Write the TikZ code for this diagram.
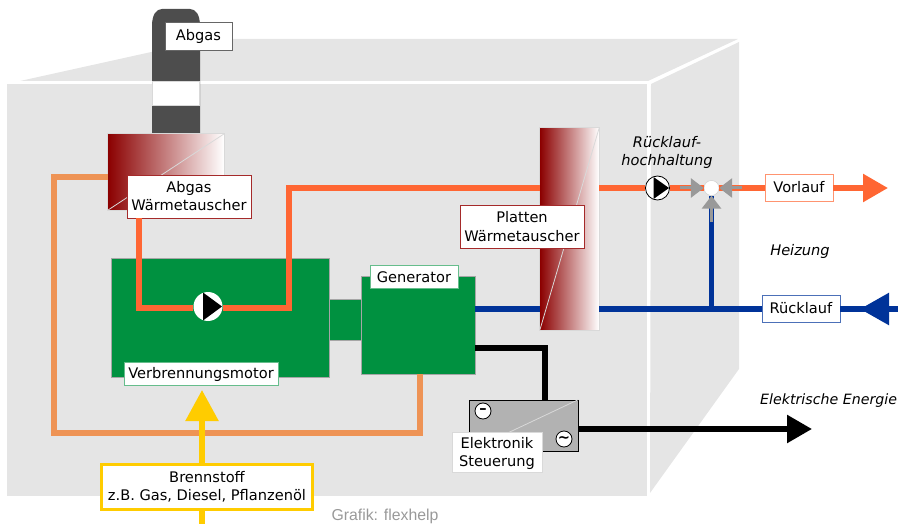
\documentclass[tikz,border=0pt]{standalone}
\usepackage{fontspec}
\setmainfont{DejaVu Sans}
\usetikzlibrary{arrows.meta}
\definecolor{wand}{HTML}{E5E5E5}
\definecolor{kamin}{HTML}{4D4D4D}
\definecolor{dunkelrot}{HTML}{8B0000}
\definecolor{labelrot}{HTML}{A52A2A}
\definecolor{gruen}{HTML}{009140}
\definecolor{vorlauffarbe}{HTML}{FF6633}
\definecolor{kuehlfarbe}{HTML}{EE9355}
\definecolor{ruecklauffarbe}{HTML}{003399}
\definecolor{gelb}{HTML}{FFCC00}
\definecolor{ventilgrau}{HTML}{999999}

\begin{document}
\begin{tikzpicture}[x=1pt,y=-1pt]
			\tikzstyle{every node}=[inner sep=0pt,font=\fontsize{14.6}{18}\selectfont,align=center,text height=9pt,text depth=0pt]
			\tikzstyle{block}=[rectangle,fill=gruen,draw=black!35,line width=0.8pt]
			\tikzstyle{hx}=[rectangle,left color=dunkelrot,right color=white]
			\tikzstyle{rand}=[black!15,line width=1.2pt]
			\tikzstyle{diag}=[white!85!black,line width=0.8pt]
			\tikzstyle{schild}=[rectangle,fill=white,line width=0.8pt]
			\tikzstyle{zweizeilig}=[text height=29pt]
			\tikzstyle{kursiv}=[font=\fontsize{14.6}{18}\selectfont\itshape]
			\tikzstyle{pipe}=[line width=5.6pt]
			\tikzstyle{pumpe}=[circle,fill=white,minimum size=24pt]
			\tikzstyle{gleich}=[circle,fill=white,draw=black,line width=0.8pt,minimum size=16pt,text height=,text depth=]
			\tikzstyle{ventilpfeil}=[draw=ventilgrau,line width=3pt,-{Triangle[length=13pt,width=19pt,fill=ventilgrau]}]
			
			\useasboundingbox (0,0) rectangle (898,524);
			
			% gehaeuse
			\fill[wand] (20,81) -- (210,39) -- (738,39) -- (648,81) -- cycle;
			\fill[wand] (651,84) -- (739,42) -- (739,369) -- (650,493) -- cycle;
			\fill[wand] (7,84) rectangle (647,496);
			
			% kamin
			\fill[kamin] (152,135) -- (152,26) .. controls (152,15) and (156,9) .. (162,9) -- (190,9) .. controls (196,9) and (200,15) .. (200,26) -- (200,135) -- cycle;
			\node[rectangle,fill=white,draw=black!15,minimum width=47pt,minimum height=24pt] (band) at (176,93) {};
			\node[schild,draw=black!60,minimum width=67pt,minimum height=28pt] (abgas) at (198.5,36) {Abgas};
			
			% bloecke
			\node[hx,minimum width=116pt,minimum height=76pt] (abgashx) at (166,172) {};
			\draw[rand] (abgashx.south west) rectangle (abgashx.north east);
			\draw[diag] (abgashx.south west) -- (abgashx.north east);
			\node[hx,minimum width=59pt,minimum height=202pt] (plattenhx) at (569.5,229) {};
			\draw[rand] (plattenhx.south west) rectangle (plattenhx.north east);
			\draw[diag] (plattenhx.south west) -- (plattenhx.north east);
			\node[block,minimum width=218pt,minimum height=119pt] (motor) at (220,317.5) {};
			\node[block,minimum width=32pt,minimum height=41pt] (welle) at (345,320) {};
			\node[block,minimum width=114pt,minimum height=98pt] (generator) at (418,325) {};
			\node[rectangle,fill=black!30,draw=black,line width=0.8pt,minimum width=109pt,minimum height=51pt] (elektronik) at (523.5,425.5) {};
			\draw[diag] (elektronik.south west) -- (elektronik.north east);
			\node[gleich] (minus) at (483,411) {\textbf{–}};
			\node[gleich] (wechsel) at (564,439) {\textbf{\char"223C}};
			
			% beschriftung
			\node[schild,zweizeilig,draw=labelrot,minimum width=124pt,minimum height=43pt] (abgaslabel) at (189,196.5) {Abgas\\Wärmetauscher};
			\node[schild,zweizeilig,draw=labelrot,minimum width=124pt,minimum height=43pt] (plattenlabel) at (522,226.5) {Platten\\Wärmetauscher};
			\node[schild,draw=gruen!60,minimum width=88pt,minimum height=23pt,text height=13pt] (generatorlabel) at (414,276.5) {Generator};
			\node[schild,draw=gruen!60,minimum width=154pt,minimum height=23pt] (motorlabel) at (201,373.5) {Verbrennungsmotor};
			\node[schild,draw=gelb,line width=2.5pt,minimum width=211pt,minimum height=45pt,text height=27pt] (brennstoff) at (207,487) {Brennstoff\\z.B. Gas, Diesel, Pflanzenöl};
			\node[schild,draw=vorlauffarbe!70,minimum width=68pt,minimum height=27pt] (vorlauf) at (799,188) {Vorlauf};
			\node[schild,draw=ruecklauffarbe!70,minimum width=78pt,minimum height=27pt] (ruecklauf) at (801,309) {Rücklauf};
			\node[schild,zweizeilig,draw=black!15,minimum width=90pt,minimum height=40pt] (steuerung) at (497,452) {Elektronik\\Steuerung};
			\node[kursiv,zweizeilig] (hochhaltung) at (667,151) {Rücklauf-\\hochhaltung};
			\node[kursiv] (heizung) at (800,251) {Heizung};
			\node[font=\fontsize{14.2}{18}\selectfont\itshape,anchor=west] (energie) at (760,399.5) {Elektrische Energie};
			\node[font=\fontsize{15.8}{16}\selectfont\fontspec{Liberation Sans},text=black!40] (grafik) at (385,516) {Grafik: flexhelp};
			
			% leitungen
			\node[circle,fill=white,minimum size=15pt,draw=black!20] (ventil) at (711.5,188) {};
			\node[pumpe,draw=black,line width=0.8pt] (pumpeB) at (657.5,188) {};
			\node[pumpe,minimum size=29pt] (pumpeA) at (208,306.5) {};
			\coordinate (kreisA) at (139,308);
			\coordinate (kreisB) at (289,308);
			\coordinate (vl) at (289,188);
			\coordinate (kuehlA) at (54,177);
			\coordinate (kuehlB) at (54,433);
			\coordinate (kuehlC) at (420,433);
			\coordinate (abzweig) at (711.5,309);
			\coordinate (gelbspitze) at (202,390);
			\coordinate (gelbende) at (202,524);
			\coordinate (vorlaufspitze) at (888,188);
			\coordinate (ruecklaufspitze) at (860,309);
			\coordinate (ruecklaufmitte) at (875,309);
			\coordinate (ruecklaufende) at (898,309);
			\coordinate (stromA) at (545,348);
			\coordinate (stromspitze) at (812,429);
			
			\draw[pipe,kuehlfarbe] (abgashx.west |- kuehlA) -- (kuehlA) -- (kuehlB) -- (kuehlC) -- (kuehlC |- generator.south);
			\draw[pipe,vorlauffarbe] (kreisA |- abgaslabel.south) -- (kreisA) -- (pumpeA.west |- kreisA);
			\draw[pipe,vorlauffarbe] (pumpeA.east |- kreisB) -- (kreisB) -- (vl) -- (vl -| plattenhx.west);
			\draw[pipe,vorlauffarbe] (vl -| plattenhx.east) -- (pumpeB.west);
			\draw[pipe,vorlauffarbe] (pumpeB.east) -- (ventil.west);
			\draw[pipe,vorlauffarbe] (ventil.east) -- (vorlauf.west);
			\draw[pipe,vorlauffarbe,-{Triangle[length=25pt,width=27pt,fill=vorlauffarbe]}] (vorlauf.east) -- (vorlaufspitze);
			\draw[pipe,ruecklauffarbe] (generator.east |- abzweig) -- (abzweig -| plattenhx.west);
			\draw[pipe,ruecklauffarbe] (abzweig -| plattenhx.east) -- (ruecklauf.west);
			\draw[pipe,ruecklauffarbe] (abzweig) -- (ventil.south);
			\draw[pipe,ruecklauffarbe] (ruecklauf.east) -- (ruecklaufmitte);
			\draw[pipe,ruecklauffarbe,-{Triangle[length=29pt,width=31pt,fill=ruecklauffarbe]}] (ruecklaufende) -- (ruecklaufspitze);
			\draw[pipe,gelb,-{Triangle[length=31pt,width=32pt,fill=gelb]}] (brennstoff.north -| gelbspitze) -- (gelbspitze);
			\draw[pipe,gelb] (brennstoff.south -| gelbende) -- (gelbende);
			\draw[pipe,black] (generator.east |- stromA) -- (stromA) -- (stromA |- elektronik.north);
			\draw[pipe,black,-{Triangle[length=25pt,width=27pt,fill=black]}] (elektronik.east |- stromspitze) -- (stromspitze);
			
			% ventil und pumpen
			\coordinate (ventilL) at (680,188);
			\coordinate (ventilR) at (742,188);
			\coordinate (ventilU) at (711.5,222);
			\draw[ventilpfeil] (ventilL) -- (ventil);
			\draw[ventilpfeil] (ventilR) -- (ventil);
			\draw[ventilpfeil] (ventilU) -- (ventil);
			\fill[black] (653.5,177) -- (669,188) -- (653.5,199) -- cycle;
			\fill[black] (203,292.5) -- (222,306.5) -- (203,320.5) -- cycle;
\end{tikzpicture}
\end{document}
